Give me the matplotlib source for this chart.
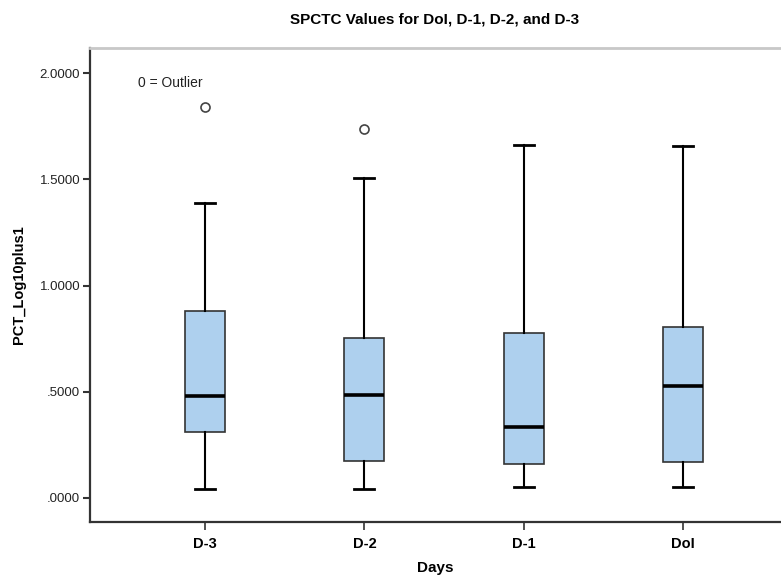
import numpy as np
import matplotlib
matplotlib.use("Agg")
import matplotlib.pyplot as plt

# values
days = ["D-3", "D-2", "D-1", "DoI"]
whislo = [0.042, 0.042, 0.052, 0.052]
q1 = [0.310, 0.174, 0.160, 0.169]
med = [0.481, 0.483, 0.334, 0.526]
q3 = [0.881, 0.751, 0.776, 0.803]
whishi = [1.388, 1.507, 1.663, 1.658]
fliers = [[1.841], [1.738], [], []]

yticks = [0.0, 0.5, 1.0, 1.5, 2.0]
ytick_labels = [".0000", ".5000", "1.0000", "1.5000", "2.0000"]

plt.rcParams['font.family'] = ['Liberation Sans', 'DejaVu Sans']

fig = plt.figure(figsize=(7.81, 5.79), dpi=100)
ax = fig.add_axes([90 / 781, 57 / 579, 691 / 781, 474 / 579])

stats = []
for i in range(len(days)):
    stats.append(dict(label=days[i], whislo=whislo[i], q1=q1[i], med=med[i],
                      q3=q3[i], whishi=whishi[i], fliers=fliers[i]))

pos = np.arange(len(days))
ax.bxp(stats, positions=pos, widths=0.25, showfliers=True, patch_artist=True,
       boxprops=dict(facecolor="#aed0ee", edgecolor="#333333", linewidth=1.2),
       medianprops=dict(color="black", linewidth=2.6),
       whiskerprops=dict(color="black", linewidth=1.5),
       capprops=dict(color="black", linewidth=2.0),
       capwidths=0.125,
       flierprops=dict(marker="o", markersize=6.5, markerfacecolor="white",
                       markeredgecolor="#444444", markeredgewidth=1.2))

ax.set_xlim(-0.723, 3.616)
ax.set_ylim(-0.113, 2.118)

ax.set_yticks(yticks)
ax.set_yticklabels(ytick_labels, fontsize=9.5, color="#222222")
ax.set_xticks(pos)
ax.set_xticklabels(days, fontsize=10.5, fontweight="bold")
ax.tick_params(axis="y", length=5, width=1.5, color="#333333", pad=2)
ax.tick_params(axis="x", length=6, width=1.2, color="#333333", pad=5)

ax.spines["right"].set_visible(False)
ax.spines["top"].set_color("#c8c8c8")
ax.spines["top"].set_linewidth(2)
for s in ["left", "bottom"]:
    ax.spines[s].set_color("#333333")
    ax.spines[s].set_linewidth(1.6)

ax.set_xlabel("Days", fontsize=11, fontweight="bold", labelpad=7)
ax.set_ylabel("PCT_Log10plus1", fontsize=10.5, fontweight="bold", labelpad=10)

fig.text(435 / 781, 1 - 20 / 579, "SPCTC Values for DoI, D-1, D-2, and D-3",
         ha="center", va="center", fontsize=11, fontweight="bold")

ax.text(-0.42, 1.953, "0 = Outlier", fontsize=10, color="#222222",
        ha="left", va="center")

fig.savefig("out.png", dpi=100)
